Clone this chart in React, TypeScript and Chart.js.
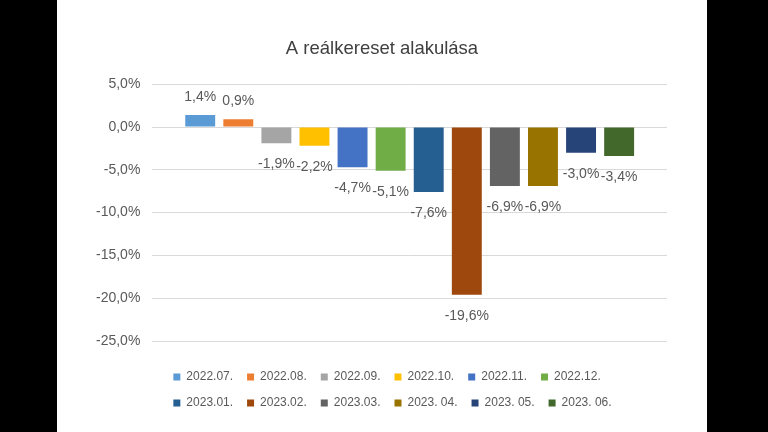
import React, { useEffect, useRef } from "react";
import { Chart, registerables } from "chart.js";

Chart.register(...registerables);

const months = [
  "2022.07.", "2022.08.", "2022.09.", "2022.10.", "2022.11.", "2022.12.",
  "2023.01.", "2023.02.", "2023.03.", "2023. 04.", "2023. 05.", "2023. 06.",
];
const realWageChange = [1.4, 0.9, -1.9, -2.2, -4.7, -5.1, -7.6, -19.6, -6.9, -6.9, -3.0, -3.4];
const barColors = [
  "#5B9BD5", "#ED7D31", "#A5A5A5", "#FFC000", "#4472C4", "#70AD47",
  "#255E91", "#9E480E", "#636363", "#997300", "#264478", "#43682B",
];
const yMin = -25;
const yMax = 5;
const yStep = 5;
const chartTitle = "A reálkereset alakulása";

const FONT = "'Liberation Sans Narrow', 'Liberation Sans', Arial, sans-serif";
const TEXT = "#595959";

const fmt = (v: number) => v.toFixed(1).replace(".", ",") + "%";

const dataLabelPlugin = {
  id: "dataLabels",
  afterDatasetsDraw(chart: any) {
    const ctx = chart.ctx;
    ctx.save();
    ctx.font = `14px ${FONT}`;
    ctx.fillStyle = TEXT;
    ctx.textAlign = "center";
    ctx.textBaseline = "middle";
    chart.data.datasets.forEach((ds: any, i: number) => {
      const meta = chart.getDatasetMeta(i);
      meta.data.forEach((el: any, j: number) => {
        const v = ds.data[j] as number;
        const y = v >= 0 ? el.y - 18 : el.y + 21;
        ctx.fillText(fmt(v), el.x, y);
      });
    });
    ctx.restore();
  },
};

const boxShiftPlugin = {
  id: "boxShift",
  afterLayout(chart: any) {
    const lg = chart.legend;
    if (lg) {
      lg.left += 7;
      lg.right += 7;
    }
    const tt = chart.titleBlock;
    if (tt) {
      tt.left += 6.5;
      tt.right += 6.5;
    }
  },
};

function BarChart() {
  const ref = useRef<HTMLCanvasElement | null>(null);
  useEffect(() => {
    if (!ref.current) return;
    const chart = new Chart(ref.current, {
      type: "bar",
      data: {
        labels: [""],
        datasets: months.map((m, i) => ({
          label: m,
          data: [realWageChange[i]],
          backgroundColor: barColors[i],
          borderWidth: 0,
        })),
      },
      options: {
        animation: false,
        responsive: true,
        maintainAspectRatio: false,
        layout: { padding: { left: 27, right: 40, top: 0, bottom: 13 } },
        datasets: {
          bar: { categoryPercentage: 0.888, barPercentage: 0.786 },
        },
        scales: {
          x: { display: false },
          y: {
            min: yMin,
            max: yMax,
            border: { display: false },
            grid: { color: "#D9D9D9", lineWidth: 1, drawTicks: false },
            ticks: {
              stepSize: yStep,
              padding: 12,
              color: TEXT,
              font: { family: FONT, size: 14 },
              callback: (v: any) => fmt(Number(v)),
            },
          },
        },
        plugins: {
          title: {
            display: true,
            text: chartTitle,
            color: "#404040",
            font: { family: FONT, size: 18.5, weight: "normal" },
            padding: { top: 38, bottom: 24 },
          },
          legend: {
            position: "bottom",
            align: "start",
            fullSize: false,
            title: { display: true, text: "", font: { size: 10, lineHeight: 1 }, padding: { top: 0, bottom: 6 } },
            labels: {
              boxWidth: 7,
              boxHeight: 7,
              padding: 14,
              color: TEXT,
              font: { family: FONT, size: 12 },
            },
          },
          tooltip: { enabled: false },
        },
      },
      plugins: [dataLabelPlugin, boxShiftPlugin],
    } as any);
    return () => chart.destroy();
  }, []);
  return <canvas ref={ref} />;
}

export default function App() {
  return (
    <div style={{ position: "fixed", left: 0, top: 0, width: 768, height: 432, background: "#000" }}>
      <div style={{ position: "absolute", left: 57, top: 0, width: 650, height: 432, background: "#fff" }}>
        <BarChart />
      </div>
    </div>
  );
}
